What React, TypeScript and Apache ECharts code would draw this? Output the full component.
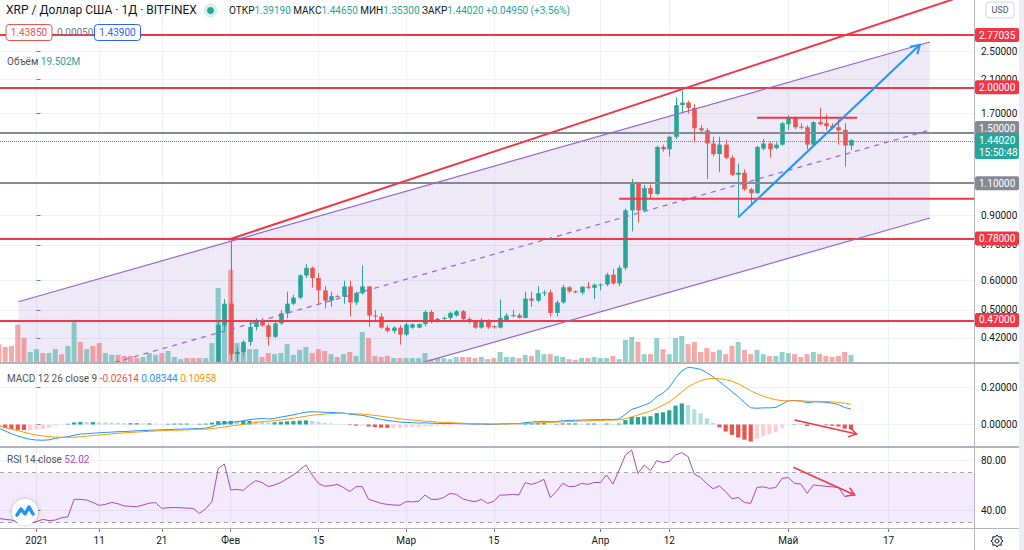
import { useEffect, useRef } from 'react';
import * as echarts from 'echarts';

// index 0 = 2020-12-26; day 0 = 2021-01-01
const FIRST_DAY = -6;

const opens = [
  0.300, 0.280, 0.255, 0.235, 0.205, 0.200, 0.215, 0.225, 0.220, 0.226,
  0.235, 0.230, 0.245, 0.315, 0.310, 0.315, 0.300, 0.290, 0.295, 0.300,
  0.295, 0.290, 0.288, 0.286, 0.292, 0.298, 0.300, 0.280, 0.283, 0.285,
  0.286, 0.283, 0.281, 0.265, 0.272,
  0.300, 0.455, 0.520, 0.380, 0.385, 0.410, 0.450, 0.467, 0.454, 0.423,
  0.460, 0.490, 0.520, 0.540, 0.620, 0.650, 0.610, 0.565, 0.530, 0.545,
  0.543, 0.579, 0.524, 0.555, 0.579, 0.483, 0.480, 0.448, 0.439, 0.448,
  0.429, 0.448, 0.448, 0.458, 0.494, 0.466, 0.473, 0.476, 0.483, 0.496,
  0.473, 0.465, 0.448, 0.470, 0.452, 0.448, 0.470, 0.482, 0.484, 0.476,
  0.537, 0.530, 0.555, 0.558, 0.491, 0.524, 0.576, 0.562, 0.557, 0.578,
  0.574, 0.585, 0.586, 0.623, 0.590, 0.650, 0.930, 1.100, 0.930, 1.068,
  1.030, 1.380, 1.360, 1.470, 1.790, 1.820, 1.760, 1.550, 1.530, 1.410,
  1.320, 1.400, 1.290, 1.160, 1.175, 1.060, 1.035, 1.365, 1.410, 1.370,
  1.400, 1.590, 1.660, 1.565, 1.560, 1.400, 1.610, 1.600, 1.575, 1.560,
  1.535, 1.3919,
];
const closes = [
  0.280, 0.255, 0.235, 0.205, 0.200, 0.215, 0.225, 0.220, 0.226, 0.235,
  0.230, 0.245, 0.315, 0.310, 0.315, 0.300, 0.290, 0.295, 0.300, 0.295,
  0.290, 0.288, 0.286, 0.292, 0.298, 0.300, 0.280, 0.283, 0.285, 0.286,
  0.283, 0.281, 0.265, 0.272, 0.300,
  0.455, 0.520, 0.380, 0.385, 0.410, 0.450, 0.467, 0.454, 0.423, 0.460,
  0.490, 0.520, 0.540, 0.620, 0.650, 0.610, 0.565, 0.530, 0.545, 0.543,
  0.579, 0.524, 0.555, 0.579, 0.483, 0.480, 0.448, 0.439, 0.448, 0.429,
  0.457, 0.457, 0.458, 0.494, 0.466, 0.473, 0.476, 0.491, 0.496, 0.473,
  0.465, 0.448, 0.470, 0.449, 0.449, 0.476, 0.483, 0.484, 0.476, 0.537,
  0.530, 0.555, 0.558, 0.491, 0.524, 0.576, 0.562, 0.558, 0.578, 0.574,
  0.585, 0.586, 0.623, 0.590, 0.650, 0.930, 1.100, 0.930, 1.068, 1.030,
  1.380, 1.360, 1.470, 1.790, 1.820, 1.760, 1.550, 1.530, 1.410, 1.320,
  1.400, 1.290, 1.160, 1.175, 1.060, 1.035, 1.380, 1.410, 1.360, 1.400,
  1.600, 1.660, 1.560, 1.560, 1.400, 1.610, 1.590, 1.570, 1.555, 1.530,
  1.3919, 1.4402,
];
const highs = [
  0.310, 0.290, 0.265, 0.240, 0.215, 0.220, 0.235, 0.232, 0.232, 0.245,
  0.240, 0.252, 0.330, 0.330, 0.325, 0.320, 0.305, 0.300, 0.305, 0.305,
  0.300, 0.295, 0.292, 0.296, 0.302, 0.305, 0.302, 0.288, 0.289, 0.290,
  0.289, 0.286, 0.284, 0.276, 0.320,
  0.470, 0.535, 0.770, 0.395, 0.415, 0.470, 0.475, 0.475, 0.460, 0.465,
  0.500, 0.560, 0.550, 0.625, 0.665, 0.655, 0.630, 0.580, 0.560, 0.550,
  0.600, 0.600, 0.560, 0.660, 0.580, 0.500, 0.490, 0.455, 0.452, 0.455,
  0.462, 0.460, 0.460, 0.500, 0.500, 0.477, 0.480, 0.495, 0.500, 0.500,
  0.478, 0.470, 0.475, 0.472, 0.455, 0.533, 0.490, 0.500, 0.490, 0.560,
  0.560, 0.580, 0.565, 0.567, 0.530, 0.585, 0.580, 0.565, 0.580, 0.595,
  0.590, 0.590, 0.630, 0.645, 0.660, 0.940, 1.130, 1.100, 1.090, 1.090,
  1.390, 1.400, 1.480, 1.880, 1.960, 1.840, 1.800, 1.580, 1.550, 1.470,
  1.470, 1.440, 1.310, 1.245, 1.200, 1.070, 1.390, 1.450, 1.420, 1.420,
  1.610, 1.680, 1.670, 1.600, 1.580, 1.620, 1.760, 1.690, 1.600, 1.650,
  1.600, 1.4465,
];
const lows = [
  0.270, 0.245, 0.225, 0.180, 0.190, 0.195, 0.210, 0.215, 0.216, 0.222,
  0.225, 0.228, 0.243, 0.300, 0.305, 0.295, 0.280, 0.285, 0.290, 0.290,
  0.285, 0.283, 0.282, 0.283, 0.288, 0.294, 0.272, 0.275, 0.279, 0.281,
  0.279, 0.277, 0.260, 0.262, 0.268,
  0.290, 0.440, 0.365, 0.360, 0.375, 0.400, 0.440, 0.450, 0.400, 0.420,
  0.455, 0.475, 0.515, 0.535, 0.610, 0.575, 0.520, 0.505, 0.510, 0.540,
  0.520, 0.480, 0.515, 0.550, 0.450, 0.465, 0.445, 0.435, 0.432, 0.403,
  0.425, 0.445, 0.446, 0.452, 0.460, 0.462, 0.470, 0.470, 0.480, 0.470,
  0.460, 0.445, 0.445, 0.445, 0.446, 0.446, 0.465, 0.478, 0.474, 0.474,
  0.510, 0.525, 0.545, 0.480, 0.480, 0.520, 0.555, 0.555, 0.550, 0.570,
  0.535, 0.565, 0.580, 0.585, 0.580, 0.640, 0.816, 0.862, 0.920, 1.000,
  1.020, 1.340, 1.300, 1.450, 1.700, 1.700, 1.420, 1.500, 1.130, 1.300,
  1.180, 1.280, 1.150, 0.890, 1.050, 0.965, 1.030, 1.350, 1.290, 1.360,
  1.390, 1.530, 1.540, 1.540, 1.360, 1.390, 1.580, 1.530, 1.540, 1.400,
  1.220, 1.353,
];
// volume, millions XRP
const volumes = [
  50, 42, 45, 104, 67, 28, 36, 25, 25, 36,
  22, 45, 118, 56, 36, 45, 53, 25, 20, 20,
  17, 17, 11, 14, 25, 20, 25, 31, 14, 8,
  11, 11, 11, 11, 53,
  207, 154, 258, 53, 42, 36, 36, 14, 25, 22,
  25, 50, 20, 34, 42, 25, 36, 31, 22, 14,
  22, 28, 17, 84, 67, 17, 14, 17, 11, 11,
  11, 11, 11, 25, 8, 11, 11, 8, 14, 14,
  14, 11, 14, 8, 11, 28, 14, 14, 11, 20,
  17, 34, 22, 22, 17, 14, 8, 6, 11, 11,
  14, 11, 11, 17, 8, 62, 70, 56, 22, 22,
  67, 36, 22, 67, 73, 50, 56, 28, 39, 28,
  34, 22, 45, 56, 34, 22, 34, 22, 17, 17,
  28, 25, 22, 14, 22, 28, 22, 17, 14, 17,
  28, 19.502,
];
const macdLine = [
  -0.020, -0.035, -0.050, -0.062, -0.072, -0.080, -0.084, -0.085, -0.083, -0.075,
  -0.070, -0.066, -0.058, -0.052, -0.050, -0.047, -0.045, -0.043, -0.041, -0.039,
  -0.038, -0.036, -0.034, -0.033, -0.031, -0.030, -0.029, -0.028, -0.026, -0.025,
  -0.024, -0.023, -0.022, -0.020, -0.012,
  0.000, 0.006, 0.012, 0.015, 0.020, 0.026, 0.030, 0.032, 0.030, 0.033,
  0.040, 0.046, 0.052, 0.060, 0.067, 0.069, 0.068, 0.066, 0.065, 0.063,
  0.062, 0.056, 0.052, 0.050, 0.042, 0.035, 0.028, 0.022, 0.018, 0.013,
  0.011, 0.010, 0.008, 0.009, 0.007, 0.006, 0.005, 0.005, 0.005, 0.004,
  0.003, 0.002, 0.002, 0.001, 0.001, 0.003, 0.004, 0.005, 0.005, 0.010,
  0.013, 0.016, 0.018, 0.015, 0.016, 0.020, 0.022, 0.023, 0.024, 0.025,
  0.026, 0.026, 0.028, 0.027, 0.030, 0.055, 0.082, 0.092, 0.105, 0.118,
  0.150, 0.170, 0.200, 0.250, 0.290, 0.309, 0.305, 0.298, 0.280, 0.258,
  0.232, 0.205, 0.178, 0.150, 0.120, 0.090, 0.088, 0.090, 0.090, 0.092,
  0.110, 0.128, 0.130, 0.127, 0.118, 0.122, 0.122, 0.120, 0.115, 0.108,
  0.092, 0.08344,
];
const signalLine = [
  -0.008, -0.015, -0.025, -0.033, -0.042, -0.050, -0.057, -0.062, -0.066, -0.068,
  -0.069, -0.070, -0.069, -0.066, -0.063, -0.060, -0.057, -0.054, -0.051, -0.048,
  -0.045, -0.043, -0.041, -0.039, -0.037, -0.035, -0.033, -0.032, -0.031, -0.030,
  -0.029, -0.027, -0.026, -0.025, -0.022,
  -0.018, -0.013, -0.008, -0.004, 0.001, 0.006, 0.011, 0.015, 0.018, 0.021,
  0.025, 0.029, 0.034, 0.039, 0.045, 0.050, 0.054, 0.057, 0.059, 0.060,
  0.060, 0.059, 0.058, 0.056, 0.053, 0.049, 0.045, 0.040, 0.036, 0.031,
  0.027, 0.024, 0.021, 0.018, 0.016, 0.013, 0.011, 0.010, 0.008, 0.007,
  0.006, 0.005, 0.004, 0.004, 0.003, 0.003, 0.003, 0.004, 0.004, 0.005,
  0.007, 0.009, 0.011, 0.012, 0.013, 0.014, 0.016, 0.017, 0.019, 0.020,
  0.021, 0.022, 0.023, 0.024, 0.025, 0.031, 0.041, 0.051, 0.062, 0.073,
  0.088, 0.104, 0.123, 0.148, 0.176, 0.203, 0.222, 0.237, 0.246, 0.249,
  0.247, 0.243, 0.234, 0.220, 0.202, 0.182, 0.166, 0.153, 0.142, 0.134,
  0.129, 0.128, 0.128, 0.128, 0.126, 0.125, 0.125, 0.124, 0.122, 0.119,
  0.115, 0.10958,
];
const macdHist = [
  -0.012, -0.020, -0.025, -0.029, -0.030, -0.030, -0.027, -0.023, -0.017, -0.007,
  -0.001, 0.004, 0.011, 0.014, 0.013, 0.013, 0.012, 0.011, 0.010, 0.009,
  0.007, 0.007, 0.007, 0.006, 0.006, 0.005, 0.004, 0.004, 0.005, 0.005,
  0.005, 0.004, 0.004, 0.005, 0.010,
  0.018, 0.019, 0.020, 0.019, 0.019, 0.020, 0.019, 0.017, 0.012, 0.012,
  0.015, 0.017, 0.018, 0.021, 0.022, 0.019, 0.014, 0.009, 0.006, 0.003,
  0.002, -0.003, -0.006, -0.006, -0.011, -0.014, -0.017, -0.018, -0.018, -0.018,
  -0.016, -0.014, -0.013, -0.009, -0.009, -0.007, -0.006, -0.005, -0.003, -0.003,
  -0.003, -0.003, -0.002, -0.003, -0.002, 0.000, 0.001, 0.001, 0.001, 0.005,
  0.006, 0.007, 0.007, 0.003, 0.003, 0.006, 0.006, 0.006, 0.005, 0.005,
  0.005, 0.004, 0.005, 0.003, 0.005, 0.024, 0.041, 0.041, 0.043, 0.045,
  0.062, 0.066, 0.077, 0.102, 0.114, 0.106, 0.083, 0.061, 0.034, 0.009,
  -0.015, -0.038, -0.056, -0.070, -0.082, -0.092, -0.078, -0.063, -0.052, -0.042,
  -0.019, 0.000, 0.002, -0.001, -0.008, -0.003, -0.003, -0.004, -0.007, -0.011,
  -0.023, -0.02614,
];
const rsiLine = [
  33.3, 32.5, 32, 30.5, 29.3, 29.8, 30.7, 32.5, 31.5, 32,
  33.9, 34.5, 48.5, 48.5, 48, 46, 43.7, 44.5, 46.1, 45,
  43.2, 43, 42.6, 44, 45.5, 45.9, 41.3, 41.8, 42, 41.8,
  41.5, 41.3, 37.3, 41, 46.7,
  73.3, 76.8, 56, 56.5, 55.7, 60, 63.5, 62, 58.7, 60,
  62, 65, 68, 72, 76, 68, 61.3, 59, 59.5, 60.5,
  58, 54.7, 58.7, 58.7, 48.5, 47, 45.3, 44.5, 44, 43.8,
  46.7, 46.5, 47, 52, 48.5, 48.5, 50, 53.3, 52.5, 49,
  47.5, 46.7, 48.5, 45.3, 47, 52, 52, 52.5, 52, 61.9,
  60.5, 62, 64.5, 49.9, 55, 61.3, 58.7, 59, 61.3, 60.5,
  62, 62, 68, 60.8, 72, 84, 88, 69.3, 76, 71.5,
  79.5, 78, 79, 84, 85.9, 82.7, 68.8, 66, 61, 57,
  59.2, 54.7, 49, 50.1, 46, 45.3, 58.1, 58.5, 57.3, 58,
  65.3, 66, 61.3, 60.8, 53.3, 60, 59.5, 59, 58.5, 58.1,
  50.7, 52.02,
];

const timeTickDays = [0, 10, 20, 31, 45, 59, 73, 90, 101, 120, 136];
const timeTickLabels = ['2021', '11', '21', 'Фев', '15', 'Мар', '15', 'Апр', '12', 'Май', '17'];
const priceTicks = [2.5, 2.1, 1.7, 0.9, 0.75, 0.6, 0.5, 0.42];
const macdTicks = [0, 0.2];
const rsiTicks = [40, 80];

const redLevels = [2.77035, 2.0, 0.78, 0.47];
const grayLevels = [1.5, 1.1];
const lastPrice = 1.4402;
const countdown = '15:50:48';

// drawings (day index, price)
const channelDays = [-2.9, 142.6];
const channelUpper = [0.5264, 2.652];
const channelLower = [0.176, 0.8865];
const channelMid = [0.3043, 1.533];
const redTrendDays = [30.6, 149.6];
const redTrendPrices = [0.7745, 3.61];
const blueArrowDays = [112, 141];
const blueArrowPrices = [0.89, 2.608];
const supportDays = [93, 149.64];
const supportPrice = 1.0;
const rangeTopDays = [115, 131];
const rangeTopPrice = 1.655;
const macdArrowDays = [121, 130.9];
const macdArrowValues = [0.0243, -0.0514];
const rsiArrowDays = [120.8, 130.6];
const rsiArrowValues = [74.2, 52];

const FONT = 'Roboto, "Liberation Sans", Arial, sans-serif';
const UP = '#26a69a';
const DOWN = '#ef5350';
const RED = '#f23645';
const GRAY = '#868993';
const PURPLE = '#9466d0';
const GRIDC = '#eef1f6';
const SEP = '#b2b5be';
const TXT = '#131722';
const X_MIN = -5.83;
const X_MAX = 149.64;
const L = Math.log;

function xAxis(gridIndex: number, labels: boolean) {
  return {
    type: 'value', gridIndex, min: X_MIN, max: X_MAX,
    axisLine: { show: false },
    axisTick: { show: labels, customValues: timeTickDays, length: 4, lineStyle: { color: '#787b86' } },
    axisLabel: {
      show: labels, customValues: timeTickDays, margin: 7, fontSize: 10, color: TXT, fontFamily: FONT,
      formatter: (v: number) => timeTickLabels[timeTickDays.indexOf(Math.round(v))] ?? '',
    },
    splitLine: { show: true, lineStyle: { color: GRIDC, width: 1 } },
  };
}

function seg(days: number[], vals: number[]) {
  return days.map((d, i) => [d, vals[i]]);
}

function renderCandle(_params: any, api: any) {
  const d = api.value(0);
  const o = api.value(1);
  const c = api.value(2);
  const lo = api.value(3);
  const hi = api.value(4);
  const pO = api.coord([d, o]);
  const pC = api.coord([d, c]);
  const pL = api.coord([d, lo]);
  const pH = api.coord([d, hi]);
  const w = api.size([1, 0])[0] * 0.73;
  const color = c >= o ? UP : DOWN;
  const top = Math.min(pO[1], pC[1]);
  const h = Math.max(1, Math.abs(pO[1] - pC[1]));
  const x = Math.round(pO[0]) + 0.5;
  return {
    type: 'group',
    children: [
      { type: 'line', shape: { x1: x, y1: pH[1], x2: x, y2: pL[1] }, style: { stroke: color, lineWidth: 1 } },
      { type: 'rect', shape: { x: x - w / 2, y: top, width: w, height: h }, style: { fill: color } },
    ],
  };
}

function buildOption() {
  const days = opens.map((_, i) => FIRST_DAY + i);
  const candles = days.map((d, i) => [d, L(opens[i]), L(closes[i]), L(lows[i]), L(highs[i])]);
  const vols = days.map((d, i) => ({
    value: [d, volumes[i]],
    itemStyle: { color: closes[i] >= opens[i] ? 'rgba(38,166,154,0.5)' : 'rgba(239,83,80,0.5)' },
  }));
  const hist = days.map((d, i) => {
    const h = macdHist[i];
    const p = i > 0 ? macdHist[i - 1] : h;
    const c = h >= 0 ? (h >= p ? '#26a69a' : '#b2dfdb') : (h < p ? '#ef5350' : '#ffcdd2');
    return { value: [d, h], itemStyle: { color: c } };
  });
  const lineS = (xi: number, yi: number, data: any[], color: string, width: number, type: any = 'solid', z = 5) => ({
    type: 'line', xAxisIndex: xi, yAxisIndex: yi, data, symbol: 'none', silent: true, clip: true, z,
    lineStyle: { color, width, type }, emphasis: { disabled: true },
  });
  const lnSeg = (days: number[], prices: number[]) => seg(days, prices.map(L));

  return {
    animation: false,
    backgroundColor: '#ffffff',
    textStyle: { fontFamily: FONT },
    title: [
      { left: 6, top: 4, padding: 0, text: 'XRP / Доллар США · 1Д · BITFINEX',
        textStyle: { fontSize: 12, fontWeight: 'normal', color: TXT, fontFamily: FONT } },
      { left: 229, top: 5, padding: 0,
        text: '{l|ОТКР}{v|1.39190} {l|МАКС}{v|1.44650} {l|МИН}{v|1.35300} {l|ЗАКР}{v|1.44020} {v|+0.04950 (+3.56%)}',
        textStyle: { fontSize: 10, fontWeight: 'normal', fontFamily: FONT,
          rich: { l: { fontSize: 10, color: TXT, fontFamily: FONT }, v: { fontSize: 10, color: UP, fontFamily: FONT } } } },
      { left: 7, top: 56, padding: 0, text: '{l|Объём} {v|19.502M}',
        textStyle: { fontSize: 10, fontWeight: 'normal', fontFamily: FONT,
          rich: { l: { fontSize: 10, color: '#50535e', fontFamily: FONT }, v: { fontSize: 10, color: UP, fontFamily: FONT } } } },
      { left: 7, top: 373, padding: 0, text: '{l|MACD 12 26 close 9} {r|-0.02614} {b|0.08344} {o|0.10958}',
        textStyle: { fontSize: 10, fontWeight: 'normal', fontFamily: FONT,
          rich: { l: { fontSize: 10, color: '#50535e', fontFamily: FONT }, r: { fontSize: 10, color: DOWN, fontFamily: FONT },
            b: { fontSize: 10, color: '#2196f3', fontFamily: FONT }, o: { fontSize: 10, color: '#ff9800', fontFamily: FONT } } } },
      { left: 7, top: 454, padding: 0, text: '{l|RSI 14 close} {p|52.02}',
        textStyle: { fontSize: 10, fontWeight: 'normal', fontFamily: FONT,
          rich: { l: { fontSize: 10, color: '#50535e', fontFamily: FONT }, p: { fontSize: 10, color: '#ab47bc', fontFamily: FONT } } } },
    ],
    grid: [
      { left: 0, right: 50, top: 0, height: 362 },
      { left: 0, right: 50, top: 364, height: 82 },
      { left: 0, right: 50, top: 448, height: 80 },
    ],
    xAxis: [xAxis(0, false), xAxis(1, false), xAxis(2, true)],
    yAxis: [
      { type: 'value', gridIndex: 0, position: 'right', min: L(0.3617), max: L(3.445),
        axisLine: { show: false },
        axisTick: { show: true, customValues: priceTicks.map(L), length: 4, lineStyle: { color: '#787b86' } },
        axisLabel: { customValues: priceTicks.map(L), margin: 7, fontSize: 10, color: TXT, fontFamily: FONT,
          formatter: (v: number) => Math.exp(v).toFixed(5) },
        splitLine: { show: true, lineStyle: { color: GRIDC } } },
      { type: 'value', gridIndex: 0, min: 0, max: 1013, show: false, splitLine: { show: false } },
      { type: 'value', gridIndex: 1, position: 'right', min: -0.1162, max: 0.327,
        axisLine: { show: false },
        axisTick: { show: true, customValues: macdTicks, length: 4, lineStyle: { color: '#787b86' } },
        axisLabel: { customValues: macdTicks, margin: 7, fontSize: 10, color: TXT, fontFamily: FONT,
          formatter: (v: number) => v.toFixed(5) },
        splitLine: { show: true, lineStyle: { color: GRIDC } } },
      { type: 'value', gridIndex: 2, position: 'right', min: 25.6, max: 89.6,
        axisLine: { show: false },
        axisTick: { show: true, customValues: rsiTicks, length: 4, lineStyle: { color: '#787b86' } },
        axisLabel: { customValues: rsiTicks, margin: 7, fontSize: 10, color: TXT, fontFamily: FONT,
          formatter: (v: number) => v.toFixed(2) },
        splitLine: { show: true, lineStyle: { color: GRIDC } } },
    ],
    series: [
      {
        type: 'custom', xAxisIndex: 0, yAxisIndex: 0, clip: true, silent: true, z: 1,
        data: [[channelDays[0], L(channelUpper[0])]],
        renderItem: (_p: any, api: any) => ({
          type: 'polygon',
          shape: { points: [
            api.coord([channelDays[0], L(channelUpper[0])]), api.coord([channelDays[1], L(channelUpper[1])]),
            api.coord([channelDays[1], L(channelLower[1])]), api.coord([channelDays[0], L(channelLower[0])]),
          ] },
          style: { fill: 'rgba(126,87,194,0.13)' },
        }),
      },
      { type: 'bar', xAxisIndex: 0, yAxisIndex: 1, data: vols, barWidth: 5, silent: true, z: 2 },
      {
        type: 'custom', xAxisIndex: 0, yAxisIndex: 0, data: candles, clip: true, silent: true, z: 3,
        encode: { x: 0, y: [1, 2, 3, 4] },
        renderItem: renderCandle,
      },
      {
        ...lineS(0, 0, lnSeg(channelDays, channelUpper), PURPLE, 1.2),
        markLine: {
          silent: true, symbol: ['none', 'none'], label: { show: false },
          data: [
            ...redLevels.map((p) => ({ yAxis: L(p), lineStyle: { color: RED, width: 2, type: 'solid' } })),
            ...grayLevels.map((p) => ({ yAxis: L(p), lineStyle: { color: GRAY, width: 2, type: 'solid' } })),
            { yAxis: L(lastPrice), lineStyle: { color: UP, width: 1, type: 'dotted' } },
          ],
        },
      },
      lineS(0, 0, lnSeg(channelDays, channelLower), PURPLE, 1.2),
      lineS(0, 0, lnSeg(channelDays, channelMid), PURPLE, 1.2, [5, 5]),
      lineS(0, 0, lnSeg(redTrendDays, redTrendPrices), RED, 2),
      lineS(0, 0, seg(supportDays, [L(supportPrice), L(supportPrice)]), RED, 2),
      lineS(0, 0, seg(rangeTopDays, [L(rangeTopPrice), L(rangeTopPrice)]), RED, 2),
      lineS(0, 0, lnSeg(blueArrowDays, blueArrowPrices), '#2196f3', 2, 'solid', 6),
      { type: 'bar', xAxisIndex: 1, yAxisIndex: 2, data: hist, barWidth: 4.2, silent: true, z: 2 },
      lineS(1, 2, days.map((d, i) => [d, macdLine[i]]), '#2196f3', 1),
      lineS(1, 2, days.map((d, i) => [d, signalLine[i]]), '#ff9800', 1),
      lineS(1, 2, seg(macdArrowDays, macdArrowValues), RED, 1.5, 'solid', 6),
      {
        ...lineS(2, 3, days.map((d, i) => [d, rsiLine[i]]), '#ab47bc', 1),
        markArea: { silent: true, itemStyle: { color: 'rgba(149,64,230,0.11)' }, data: [[{ yAxis: 30 }, { yAxis: 70 }]] },
        markLine: { silent: true, symbol: ['none', 'none'], label: { show: false },
          lineStyle: { color: '#a3a6af', width: 1, type: [4, 4] }, data: [{ yAxis: 70 }, { yAxis: 30 }] },
      },
      lineS(2, 3, seg(rsiArrowDays, rsiArrowValues), RED, 1.5, 'solid', 6),
    ],
  };
}

function buildGraphics(chart: any) {
  const yP = (p: number) => chart.convertToPixel({ yAxisIndex: 0 }, L(p));
  const pMain = (d: number, p: number) => chart.convertToPixel({ xAxisIndex: 0, yAxisIndex: 0 }, [d, L(p)]);
  const pMacd = (d: number, v: number) => chart.convertToPixel({ xAxisIndex: 1, yAxisIndex: 2 }, [d, v]);
  const pRsi = (d: number, v: number) => chart.convertToPixel({ xAxisIndex: 2, yAxisIndex: 3 }, [d, v]);
  const els: any[] = [];
  const line = (x1: number, y1: number, x2: number, y2: number, stroke: string, w: number) =>
    ({ type: 'line', silent: true, z: 50, shape: { x1, y1, x2, y2 }, style: { stroke, lineWidth: w } });
  const text = (x: number, y: number, t: string, fill: string, size: number, align = 'left') => ({
    type: 'text', silent: true, z: 60,
    style: { text: t, x, y, fill, font: `${size}px ${FONT}`, align, verticalAlign: 'middle', textAlign: align, textVerticalAlign: 'middle' },
  });
  const rect = (x: number, y: number, w: number, h: number, fill: string, stroke?: string, r = 2) => ({
    type: 'rect', silent: true, z: 55, shape: { x, y, width: w, height: h, r },
    style: stroke ? { fill, stroke, lineWidth: 1 } : { fill },
  });
  const head = (a: number[], b: number[], color: string, size: number, w: number) => {
    const ang = Math.atan2(b[1] - a[1], b[0] - a[0]);
    const p1 = [b[0] + size * Math.cos(ang + Math.PI - 0.55), b[1] + size * Math.sin(ang + Math.PI - 0.55)];
    const p2 = [b[0] + size * Math.cos(ang + Math.PI + 0.55), b[1] + size * Math.sin(ang + Math.PI + 0.55)];
    return { type: 'polyline', silent: true, z: 40, shape: { points: [p1, b, p2] }, style: { stroke: color, lineWidth: w, fill: 'none' } };
  };

  // pane separators and right strip
  els.push(rect(1019, 0, 5, 550, '#eceef3', undefined, 0));
  els.push(line(0, 363, 1019, 363, SEP, 2));
  els.push(line(0, 447, 1019, 447, SEP, 2));
  els.push(line(0, 528.5, 1019, 528.5, SEP, 1));
  els.push(line(974.5, 0, 974.5, 550, SEP, 1));

  // price-axis labels
  const box = (yc: number, fill: string, label: string) => {
    els.push(rect(975, yc - 7, 44, 14, fill));
    els.push(text(979, yc, label, '#ffffff', 10));
  };
  redLevels.forEach((p) => box(yP(p), RED, p.toFixed(5)));
  box(yP(1.1), GRAY, '1.10000');
  box(yP(1.5) - 5.5, GRAY, '1.50000');
  const yl = yP(lastPrice);
  els.push(rect(975, yl - 7, 44, 26, UP));
  els.push(text(979, yl, lastPrice.toFixed(5), '#ffffff', 10));
  els.push(text(979, yl + 12, countdown, '#ffffff', 10));

  // header bid/ask
  els.push(rect(6, 24.5, 46, 16, '#ffffff', DOWN, 3));
  els.push(text(29, 32.5, '1.43850', DOWN, 10, 'center'));
  els.push(text(57, 32.5, '0.00050', '#787b86', 10));
  els.push(rect(94.5, 24.5, 46, 16, '#ffffff', '#2962ff', 3));
  els.push(text(117.5, 32.5, '1.43900', '#2962ff', 10, 'center'));
  els.push({ type: 'circle', silent: true, z: 55, shape: { cx: 210.5, cy: 10.5, r: 7 }, style: { fill: 'rgba(38,166,154,0.18)' } });
  els.push({ type: 'circle', silent: true, z: 56, shape: { cx: 210.5, cy: 10.5, r: 3.5 }, style: { fill: UP } });

  // USD button
  els.push(rect(986, 2, 28, 16, '#ffffff', '#d1d4dc', 3));
  els.push(text(1000, 10, 'USD', '#50535e', 9, 'center'));

  // arrow heads
  els.push(head(pMain(blueArrowDays[0], blueArrowPrices[0]), pMain(blueArrowDays[1], blueArrowPrices[1]), '#2196f3', 10, 2));
  els.push(head(pMacd(macdArrowDays[0], macdArrowValues[0]), pMacd(macdArrowDays[1], macdArrowValues[1]), RED, 9, 1.5));
  els.push(head(pRsi(rsiArrowDays[0], rsiArrowValues[0]), pRsi(rsiArrowDays[1], rsiArrowValues[1]), RED, 9, 1.5));

  // TradingView logo
  els.push({ type: 'circle', silent: true, z: 55, shape: { cx: 25, cy: 512, r: 13 },
    style: { fill: '#ffffff', shadowBlur: 4, shadowColor: 'rgba(0,0,0,0.25)' } });
  els.push({ type: 'polyline', silent: true, z: 56, shape: { points: [[17, 515], [21, 509], [25, 514], [29, 507], [33, 514]] },
    style: { stroke: '#2196f3', lineWidth: 3.5, fill: 'none', lineJoin: 'round', lineCap: 'round' } });

  // gear
  const gp: number[][] = [];
  for (let k = 0; k < 16; k++) {
    const r = k % 2 === 0 ? 6 : 4.3;
    const a = (k * Math.PI) / 8;
    gp.push([997 + r * Math.cos(a), 541 + r * Math.sin(a)]);
  }
  els.push({ type: 'polygon', silent: true, z: 55, shape: { points: gp }, style: { fill: '#ffffff', stroke: '#131722', lineWidth: 1 } });
  els.push({ type: 'circle', silent: true, z: 56, shape: { cx: 997, cy: 541, r: 2 }, style: { fill: 'none', stroke: '#131722', lineWidth: 1 } });
  return els;
}

export default function App() {
  const ref = useRef<HTMLDivElement>(null);
  useEffect(() => {
    const chart = echarts.init(ref.current as HTMLDivElement, null, { renderer: 'svg' });
    chart.setOption(buildOption() as any);
    chart.setOption({ graphic: { elements: buildGraphics(chart) } } as any);
    return () => chart.dispose();
  }, []);
  return (
    <div
      ref={ref}
      style={{ position: 'fixed', left: 0, top: 0, width: 1024, height: 550, background: '#ffffff' }}
    />
  );
}
